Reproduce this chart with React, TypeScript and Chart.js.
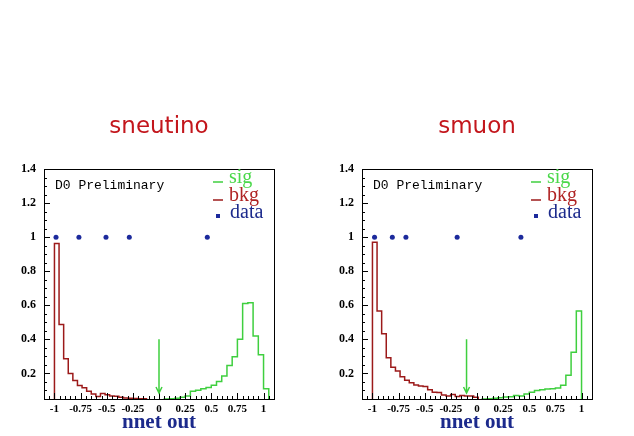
import { useEffect, useRef } from "react";
import { Chart, registerables } from "chart.js";

Chart.register(...registerables);

// ---------- data ----------
const bkgBinStart = -1;
const bkgBinWidth = 0.044;
const sigBinStart = 0;
const sigBinWidth = 0.05;

const sneutinoBkg = [0.963, 0.488, 0.286, 0.2, 0.159, 0.129, 0.116, 0.096, 0.08, 0.065, 0.083, 0.075, 0.067, 0.066, 0.06, 0.056, 0.055, 0.053, 0.052, 0.051];
const sneutinoSig = [0, 0.05, 0.052, 0.054, 0.06, 0.068, 0.096, 0.102, 0.11, 0.118, 0.13, 0.152, 0.185, 0.247, 0.298, 0.4, 0.61, 0.615, 0.42, 0.31, 0.11];
const sneutinoDataX = [-0.985, -0.766, -0.507, -0.284, 0.462];

const smuonBkg = [0.97, 0.566, 0.433, 0.292, 0.237, 0.215, 0.18, 0.16, 0.145, 0.132, 0.126, 0.124, 0.105, 0.09, 0.088, 0.074, 0.068, 0.076, 0.065, 0.07, 0.068, 0.067, 0.06];
const smuonSig = [0, 0.05, 0.052, 0.055, 0.058, 0.062, 0.063, 0.07, 0.068, 0.08, 0.09, 0.1, 0.105, 0.108, 0.11, 0.115, 0.13, 0.19, 0.325, 0.566];
const smuonDataX = [-0.98, -0.81, -0.68, -0.19, 0.42];

const dataY = 1;

const cutArrowTop = 0.4;
const cutArrowTip = 0.085;
const sneutinoCut = 0;
const smuonCut = -0.1;

const xTicks = [-1, -0.75, -0.5, -0.25, 0, 0.25, 0.5, 0.75, 1];
const xTickLabels = ["-1", "-0.75", "-0.5", "-0.25", "0", "0.25", "0.5", "0.75", "1"];
const yTicks = [0.2, 0.4, 0.6, 0.8, 1, 1.2, 1.4];
const yTickLabels = ["0.2", "0.4", "0.6", "0.8", "1", "1.2", "1.4"];

const legendLabels = ["sig", "bkg", "data"];

// ---------- styles ----------
const SIG = "#3fcf3f";
const BKG = "#9c1a1a";
const DATA = "#1c2a9c";
const SIG_TEXT = "#4ad84a";
const BKG_TEXT = "#b02424";
const DATA_TEXT = "#1c2a8c";
const TITLE = "#c3161c";

function histPoints(values: number[], start: number, width: number) {
  const pts: { x: number; y: number }[] = [{ x: start, y: 0 }];
  values.forEach((v, i) => pts.push({ x: start + i * width, y: v }));
  pts.push({ x: start + values.length * width, y: 0 });
  return pts;
}

function makeDecor(cutX: number) {
  return {
    id: "decor",
    afterDatasetsDraw(chart: any) {
      const ctx = chart.ctx as CanvasRenderingContext2D;
      const { left, right, top, bottom } = chart.chartArea;
      const xs = chart.scales.x;
      const ys = chart.scales.y;
      ctx.save();
      // frame
      ctx.strokeStyle = "#000";
      ctx.lineWidth = 1;
      ctx.strokeRect(Math.round(left) + 0.5, Math.round(top) + 0.5, Math.round(right - left), Math.round(bottom - top));
      // inner ticks y
      ctx.beginPath();
      for (let k = 1; k <= 28; k++) {
        const v = k * 0.05;
        const py = Math.round(ys.getPixelForValue(v)) + 0.5;
        const major = k % 4 === 0;
        ctx.moveTo(left, py);
        ctx.lineTo(left + (major ? 6 : 3), py);
      }
      // inner ticks x
      for (let k = -22; k <= 22; k++) {
        const v = k * 0.05;
        const px = Math.round(xs.getPixelForValue(v)) + 0.5;
        const major = k % 5 === 0;
        ctx.moveTo(px, bottom);
        ctx.lineTo(px, bottom - (major ? 6 : 3));
      }
      ctx.stroke();

      // cut arrow
      const ax = xs.getPixelForValue(cutX);
      const aTop = ys.getPixelForValue(cutArrowTop);
      const aTip = ys.getPixelForValue(cutArrowTip);
      ctx.strokeStyle = SIG;
      ctx.lineWidth = 1.5;
      ctx.beginPath();
      ctx.moveTo(ax, aTop);
      ctx.lineTo(ax, aTip);
      ctx.moveTo(ax - 3, aTip - 6);
      ctx.lineTo(ax, aTip);
      ctx.lineTo(ax + 3, aTip - 6);
      ctx.stroke();

      // D0 Preliminary
      ctx.fillStyle = "#000";
      ctx.font = "13px 'Liberation Mono'";
      ctx.textBaseline = "alphabetic";
      ctx.textAlign = "left";
      ctx.fillText("D0 Preliminary", left + 11, top + 19.5);

      // legend
      ctx.font = "20px 'Liberation Serif'";
      ctx.lineWidth = 1.5;
      ctx.strokeStyle = SIG;
      ctx.beginPath();
      ctx.moveTo(right - 61, top + 13);
      ctx.lineTo(right - 51, top + 13);
      ctx.stroke();
      ctx.fillStyle = SIG_TEXT;
      ctx.fillText(legendLabels[0], right - 45, top + 14);

      ctx.strokeStyle = BKG;
      ctx.beginPath();
      ctx.moveTo(right - 61, top + 31);
      ctx.lineTo(right - 51, top + 31);
      ctx.stroke();
      ctx.fillStyle = BKG_TEXT;
      ctx.fillText(legendLabels[1], right - 45, top + 32);

      ctx.fillStyle = DATA;
      ctx.fillRect(right - 58, top + 45, 4, 4);
      ctx.fillStyle = DATA_TEXT;
      ctx.fillText(legendLabels[2], right - 44, top + 49);
      ctx.restore();
    },
  };
}

type PanelProps = {
  title: string;
  bkg: number[];
  sig: number[];
  dataX: number[];
  cutX: number;
  left: number;
  width: number;
  yAxisWidth: number;
  padRight: number;
};

function Panel(p: PanelProps) {
  const ref = useRef<HTMLCanvasElement | null>(null);
  useEffect(() => {
    if (!ref.current) return;
    const chart = new Chart(ref.current, {
      type: "line",
      data: {
        datasets: [
          {
            label: "bkg",
            data: histPoints(p.bkg, bkgBinStart, bkgBinWidth),
            borderColor: BKG,
            borderWidth: 1.5,
            pointRadius: 0,
            stepped: true,
            fill: false,
          },
          {
            label: "sig",
            data: histPoints(p.sig, sigBinStart, sigBinWidth),
            borderColor: SIG,
            borderWidth: 1.5,
            pointRadius: 0,
            stepped: true,
            fill: false,
          },
          {
            label: "data",
            data: p.dataX.map((x) => ({ x, y: dataY })),
            showLine: false,
            pointRadius: 2.5,
            pointStyle: "circle",
            pointBackgroundColor: DATA,
            pointBorderColor: DATA,
            pointBorderWidth: 0,
          },
        ],
      },
      options: {
        responsive: false,
        animation: false,
        layout: { padding: { left: 0, right: p.padRight, top: 0, bottom: 0 } },
        plugins: {
          legend: { display: false },
          tooltip: { enabled: false },
          title: {
            display: true,
            text: p.title,
            fullSize: false,
            color: TITLE,
            font: { family: "'DejaVu Sans'", size: 23, weight: "normal" },
            padding: { top: 13, bottom: 28.4 },
          },
        },
        scales: {
          x: {
            type: "linear",
            min: -1.1,
            max: 1.1,
            grid: { display: false, drawTicks: false, tickLength: 0 },
            border: { display: false },
            afterBuildTicks: (s: any) => {
              s.ticks = xTicks.map((v) => ({ value: v }));
            },
            afterFit: (s: any) => {
              s.height = 37;
            },
            ticks: {
              autoSkip: false,
              maxRotation: 0,
              padding: 4,
              color: "#000",
              font: { family: "'Liberation Serif'", size: 11, weight: "bold" },
              callback: (_v: any, i: number) => xTickLabels[i],
            },
            title: {
              display: true,
              text: "nnet out",
              color: DATA_TEXT,
              font: { family: "'Liberation Serif'", size: 21, weight: "bold" },
              padding: { top: 0, bottom: 1 },
            },
          },
          y: {
            type: "linear",
            min: 0.05,
            max: 1.4,
            grid: { display: false, drawTicks: false, tickLength: 0 },
            border: { display: false },
            afterBuildTicks: (s: any) => {
              s.ticks = yTicks.map((v) => ({ value: v }));
            },
            afterFit: (s: any) => {
              s.width = p.yAxisWidth;
            },
            ticks: {
              padding: 8,
              color: "#000",
              font: { family: "'Liberation Serif'", size: 12, weight: "bold" },
              callback: (_v: any, i: number) => yTickLabels[i],
            },
          },
        },
      },
      plugins: [makeDecor(p.cutX)],
    });
    return () => chart.destroy();
  }, []);
  return (
    <canvas
      ref={ref}
      width={p.width}
      height={336}
      style={{ position: "absolute", left: p.left, top: 100, width: p.width, height: 336 }}
    />
  );
}

export default function App() {
  return (
    <div style={{ position: "absolute", left: 0, top: 0, width: 634, height: 436, background: "#fff", overflow: "hidden" }}>
      <Panel title="sneutino" bkg={sneutinoBkg} sig={sneutinoSig} dataX={sneutinoDataX} cutX={sneutinoCut} left={0} width={317} yAxisWidth={44} padRight={43} />
      <Panel title="smuon" bkg={smuonBkg} sig={smuonSig} dataX={smuonDataX} cutX={smuonCut} left={318} width={316} yAxisWidth={44} padRight={42} />
    </div>
  );
}
